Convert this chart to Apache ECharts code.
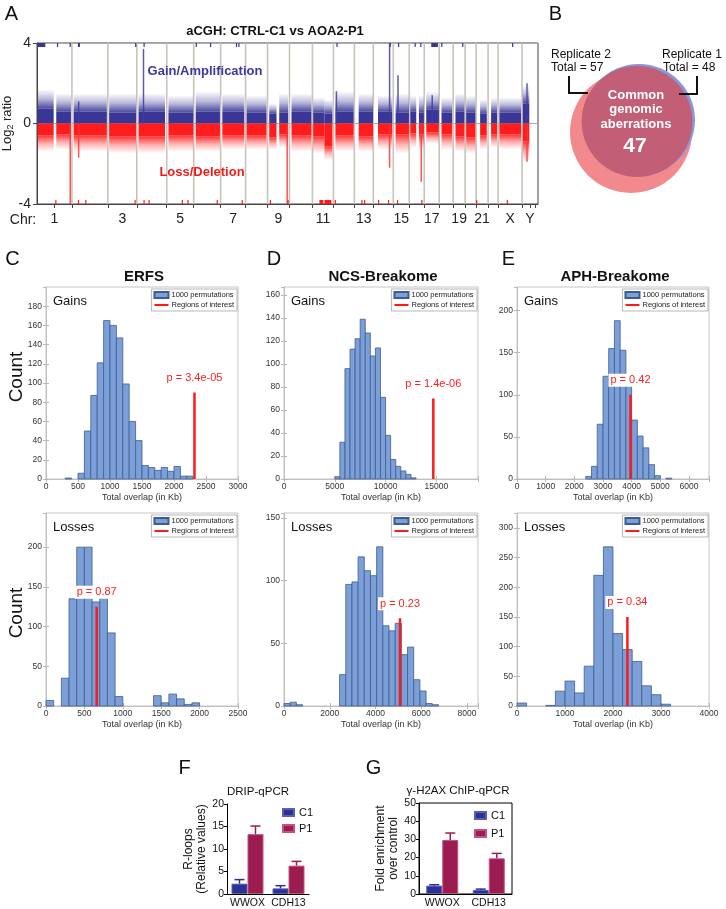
<!DOCTYPE html>
<html><head><meta charset="utf-8">
<script src="https://cdn.jsdelivr.net/npm/echarts@6/dist/echarts.min.js"></script>
<style>html,body{margin:0;padding:0;background:#fff}#c{width:726px;height:909px}</style>
</head><body><div id="c"></div>
<script>
// ================= DATA =================
// Panel A (aCGH) — x in genome-index units
const chrNames = ['1','2','3','4','5','6','7','8','9','10','11','12','13','14','15','16','17','18','19','20','21','22','X','Y'];
const chrBounds = [0,35,71,100,130,157,184,209,231,253,276,297,318,337,357,373,388,403,417,429,440,452,462,486,502];
const chrLabeled = ['1','3','5','7','9','11','13','15','17','19','21','X','Y'];
// [start, end, gainDense, gainSparse, lossDense, lossSparse]
const acghSegments = [
  [0.7,16.7,0.75,1.7,-0.6,-1.4],[19.3,34,0.6,1.5,-0.55,-1.3],[36.7,70,0.6,1.5,-0.6,-1.4],
  [72.3,99.3,0.55,1.5,-0.65,-1.5],[101.7,128.3,0.6,1.5,-0.65,-1.5],[131.7,156.7,0.55,1.4,-0.6,-1.4],
  [159,183.3,0.6,1.6,-0.65,-1.4],[185.7,207.7,0.6,1.5,-0.6,-1.3],[210,230,0.55,1.4,-0.6,-1.3],
  [232.7,240,0.5,1.0,-0.7,-1.3],[242.7,251.7,0.55,1.5,-0.55,-1.2],[255,275,0.6,1.5,-0.6,-1.4],
  [276.7,288,0.55,1.3,-0.65,-1.5],[288,296,0.5,1.2,-1.15,-1.8],[299,317.3,0.6,1.6,-0.6,-1.4],
  [322.3,336.7,0.6,1.5,-0.65,-1.4],[341.7,356,0.6,1.4,-0.55,-1.3],[359.3,372.7,0.55,1.5,-0.55,-1.5],
  [374,380,0.6,1.4,-0.5,-1.2],[382.7,387.7,0.55,1.4,-0.55,-1.3],[390,402.7,0.7,1.6,-0.45,-1.0],
  [405.3,416,0.55,1.3,-0.55,-1.3],[419.3,428.3,0.6,1.5,-0.65,-1.4],[430,439.3,0.55,1.4,-0.7,-1.5],
  [444,450.7,0.5,1.2,-0.6,-1.3],[455,461,0.55,1.3,-0.55,-1.2],[463.3,485,0.55,1.3,-0.55,-1.3],
  [486.7,493.3,1.0,1.9,-0.9,-1.9]
];
// single-probe spikes [x, log2 ratio]
const acghSpikes = [[33.3,-4],[41.7,-1.7],[41.7,1.1],[106.7,3.7],[250.7,-4],[300,1.6],[353.3,4],[353.3,-2.2],[361.7,2.4],[385,-2.9],[396,1.4],[491,2.0],[491,-1.9]];
// probes clipped at +4 / -4  [x0, x1]
const gainClipped = [[0.7,8.3],[20,20.6],[32.7,33.3],[41,43],[98.3,98.9],[106.7,107.3],[159,159.6],[173.3,173.9],[199.3,199.9],[201.7,202.3],[300,300.6],[353.3,353.9],[361.7,362.3],[378.3,378.9],[384,384.6],[395,401.7],[405,405.6],[426,426.6],[476,476.6]];
const lossClipped = [[18.3,18.9],[41,41.6],[48.3,48.9],[97.7,98.3],[106.7,107.3],[111.7,112.3],[145,145.6],[150.7,151.3],[180,180.6],[205,205.6],[233.3,233.9],[251,251.6],[283,287],[288,295],[298.3,298.9],[325,325.6],[327.7,328.3],[341.7,342.3],[351.7,352.3],[360.7,361.3],[385,385.6],[440,440.6],[470.7,471.3]];

// Panel B (Venn)
const vennNames = ['Replicate 2','Replicate 1','Common genomic aberrations'];
const vennTotals = [57,48,47];

// Panels C-E: histogram counts (bin start, bin width, counts)
const erfsGainsStart = 300, erfsGainsWidth = 100;
const erfsGainsCounts = [1,0,6,50,87,121,165,160,147,99,60,40,14,12,9,12,8,13,3,3];
const ncsGainsStart = 5000, ncsGainsWidth = 500;
const ncsGainsCounts = [2,32,96,113,122,139,127,107,114,71,38,17,11,7,4,1];
const aphGainsStart = 2400, aphGainsWidth = 200;
const aphGainsCounts = [3,15,65,122,155,188,153,118,70,51,37,17,4,0,1];
const erfsLossesStart = 0, erfsLossesWidth = 100;
const erfsLossesCounts = [7,0,35,135,200,200,131,140,92,12,0,0,0,0,13,4,15,9,2,4];
const ncsLossesStart = 0, ncsLossesWidth = 270;
const ncsLossesCounts = [2,3,1,0,0,0,0,0,0,25,97,99,119,108,104,127,64,60,66,41,47,21,12,2,1];
const aphLossesStart = 0, aphLossesWidth = 200;
const aphLossesCounts = [5,0,0,1,25,42,22,67,220,268,122,95,75,34,19,3];
// regions of interest: total overlap, line height, p-value
const roiOverlap = [2320,14700,3960,660,5070,2300];
const roiHeight = [90,70,100,125,70,150];
const roiP = ['3.4e-05','1.4e-06','0.42','0.87','0.23','0.34'];
const histTitles = ['ERFS','NCS-Breakome','APH-Breakome'];

// Panels F, G
const genes = ['WWOX','CDH13'];
const dripC1 = [2.3,1.25], dripC1Err = [0.9,0.6];
const dripP1 = [13.3,6.3], dripP1Err = [1.8,0.95];
const h2axC1 = [4.6,2.2], h2axC1Err = [0.5,0.5];
const h2axP1 = [29.7,19.6], h2axP1Err = [3.8,2.7];

// ================= BUILD =================
const FONT = '"Liberation Sans", Arial, Helvetica, sans-serif';
const chart = echarts.init(document.getElementById('c'));
const grids = [], xAxes = [], yAxes = [], series = [], legends = [], graphics = [];

function txt(x, y, text, size, opts) {
  opts = opts || {};
  graphics.push({type:'text', x:x, y:y, rotation: opts.rot || 0, z:100,
    style:{text:text, fill: opts.color || '#111', font: (opts.weight||'normal') + ' ' + size + 'px ' + FONT,
      align: opts.align || 'center', verticalAlign: opts.va || 'middle', lineHeight: opts.lh}});
}
function grid(o) { o.outerBoundsMode = 'none'; o.containLabel = false; grids.push(o); return grids.length - 1; }

// ---------- Panel A ----------
const chrCenters = chrLabeled.map(n => { const i = chrNames.indexOf(n); return (chrBounds[i] + chrBounds[i+1]) / 2; });
const chrTicks = chrBounds.slice(1, -1).concat([17.5, 494, 499]);
grid({left:37, top:43, width:501, height:161, show:true, borderColor:'#444', borderWidth:1, backgroundColor:'#fff'});
xAxes.push({gridIndex:0, type:'value', min:0, max:502,
  axisLine:{show:true, onZero:false, lineStyle:{color:'#444'}},
  axisTick:{show:true, customValues:chrTicks, length:4, lineStyle:{color:'#444'}},
  axisLabel:{customValues:chrCenters, fontSize:14, color:'#222', margin:8, fontFamily:FONT,
    formatter: v => { const k = chrCenters.findIndex(c => Math.abs(c - v) < 0.01); return k >= 0 ? chrLabeled[k] : ''; }},
  splitLine:{show:false}});
yAxes.push({gridIndex:0, type:'value', min:-4, max:4, interval:4,
  axisLine:{show:true, lineStyle:{color:'#444'}}, axisTick:{show:true, length:4, lineStyle:{color:'#444'}},
  axisLabel:{fontSize:14, color:'#222', margin:6, fontFamily:FONT},
  splitLine:{show:true, lineStyle:{color:'#aaa', width:1}},
  name:'{a|Log}{s|2}{a| ratio}', nameLocation:'middle', nameGap:22, nameRotate:90, nameMoveOverlap:false,
  nameTextStyle:{color:'#222', fontFamily:FONT, rich:{a:{fontSize:13, fontFamily:FONT, color:'#222', lineHeight:16}, s:{fontSize:9, fontFamily:FONT, color:'#222', verticalAlign:'bottom', lineHeight:12}}}});

series.push({type:'custom', xAxisIndex:0, yAxisIndex:0, silent:true, z:1,
  data: chrBounds.slice(1, -1).map(b => [b, 0]),
  encode:{x:0, y:1},
  renderItem:(p, api) => { const a = api.coord([api.value(0), 4]), b = api.coord([api.value(0), -4]);
    return {type:'line', shape:{x1:a[0], y1:a[1], x2:b[0], y2:b[1]}, style:{stroke:'#c8c4ba', lineWidth:1.6}}; }});
const gradUp = new echarts.graphic.LinearGradient(0,0,0,1,[{offset:0,color:'rgba(58,54,150,0)'},{offset:0.5,color:'rgba(58,54,150,0.35)'},{offset:1,color:'rgba(58,54,150,0.9)'}]);
const gradDn = new echarts.graphic.LinearGradient(0,0,0,1,[{offset:0,color:'rgba(255,30,30,0.9)'},{offset:0.5,color:'rgba(255,30,30,0.35)'},{offset:1,color:'rgba(255,30,30,0)'}]);
series.push({type:'custom', xAxisIndex:0, yAxisIndex:0, silent:true, z:2,
  data: acghSegments, encode:{x:[0,1], y:[2,3,4,5]},
  renderItem:(p, api) => {
    const x0 = api.value(0), x1 = api.value(1);
    const o = api.coord([x0, 0]), e = api.coord([x1, 0]);
    const yg = api.coord([x0, api.value(2)])[1], ygs = api.coord([x0, api.value(3)])[1];
    const yl = api.coord([x0, api.value(4)])[1], yls = api.coord([x0, api.value(5)])[1];
    const X = o[0], W = e[0] - o[0], Y0 = o[1];
    return {type:'group', children:[
      {type:'rect', shape:{x:X, y:ygs, width:W, height:yg - ygs}, style:{fill:gradUp}},
      {type:'rect', shape:{x:X, y:yg, width:W, height:Y0 - yg}, style:{fill:'#3a3696'}},
      {type:'rect', shape:{x:X, y:Y0, width:W, height:yl - Y0}, style:{fill:'#ff1c1c'}},
      {type:'rect', shape:{x:X, y:yl, width:W, height:yls - yl}, style:{fill:gradDn}}
    ]};
  }});
series.push({type:'custom', xAxisIndex:0, yAxisIndex:0, silent:true, z:3,
  data: acghSpikes, encode:{x:0, y:1},
  renderItem:(p, api) => { const v = api.value(1); const a = api.coord([api.value(0), 0]), b = api.coord([api.value(0), v]);
    return {type:'line', shape:{x1:a[0], y1:a[1], x2:b[0], y2:b[1]}, style:{stroke: v > 0 ? 'rgba(64,60,165,0.85)' : 'rgba(255,50,50,0.85)', lineWidth:1.5}}; }});
function clipRender(yv, color, down) {
  return (p, api) => { const a = api.coord([api.value(0), yv]), b = api.coord([api.value(1), yv]);
    return {type:'rect', shape:{x:a[0], y: down ? a[1] : a[1] - 4, width:Math.max(1.2, b[0] - a[0]), height:4}, style:{fill:color}}; };
}
series.push({type:'custom', xAxisIndex:0, yAxisIndex:0, silent:true, z:4, data: gainClipped.map(d => [d[0], d[1], 4]), encode:{x:[0,1], y:2}, renderItem: clipRender(4, '#3a3696', true)});
series.push({type:'custom', xAxisIndex:0, yAxisIndex:0, silent:true, z:4, data: lossClipped.map(d => [d[0], d[1], -4]), encode:{x:[0,1], y:2}, renderItem: clipRender(-4, '#ff1c1c', false)});

txt(275, 31, 'aCGH: CTRL-C1 vs AOA2-P1', 13, {weight:'bold'});
txt(205, 71, 'Gain/Amplification', 13, {weight:'bold', color:'#3b3a9c'});
txt(202, 172, 'Loss/Deletion', 13, {weight:'bold', color:'#f01c1c'});
txt(23, 220, 'Chr:', 14, {color:'#222'});

// ---------- Panel B (Venn) ----------
grid({left:540, top:40, width:180, height:180, show:false});
xAxes.push({gridIndex:1, type:'value', min:0, max:180, show:false});
yAxes.push({gridIndex:1, type:'value', min:0, max:180, inverse:true, show:false});
const vennCenters = [[91,92],[99,80],[97,81.5]];
const vennColors = ['#f28a8d','#8797d8','#c25e75'];
const vennK = 61 / Math.sqrt(vennTotals[0]);
series.push({type:'custom', xAxisIndex:1, yAxisIndex:1, silent:true, z:2,
  data: vennTotals.map((t, i) => [vennCenters[i][0], vennCenters[i][1], t]), encode:{x:0, y:1},
  renderItem:(p, api) => { const c = api.coord([api.value(0), api.value(1)]); const r = api.size([vennK * Math.sqrt(api.value(2)), 0])[0];
    return {type:'circle', shape:{cx:c[0], cy:c[1], r:r}, style:{fill:vennColors[p.dataIndex]}}; }});
txt(551, 55, vennNames[0], 12, {align:'left'});
txt(551, 68, 'Total = ' + vennTotals[0], 12, {align:'left'});
txt(662, 55, vennNames[1], 12, {align:'left'});
txt(663, 68, 'Total = ' + vennTotals[1], 12, {align:'left'});
graphics.push({type:'polyline', z:100, shape:{points:[[569,76],[569,93],[588,93]]}, style:{stroke:'#111', lineWidth:2, fill:null}});
graphics.push({type:'polyline', z:100, shape:{points:[[697,76],[697,94],[679,94]]}, style:{stroke:'#111', lineWidth:2, fill:null}});
txt(636, 109.5, 'Common\ngenomic\naberrations', 13, {weight:'bold', color:'#fff', lh:14.5});
txt(635, 146, String(vennTotals[2]), 21, {weight:'bold', color:'#fff'});

// ---------- Panels C-E ----------
const histSets = [
  [erfsGainsStart, erfsGainsWidth, erfsGainsCounts], [ncsGainsStart, ncsGainsWidth, ncsGainsCounts], [aphGainsStart, aphGainsWidth, aphGainsCounts],
  [erfsLossesStart, erfsLossesWidth, erfsLossesCounts], [ncsLossesStart, ncsLossesWidth, ncsLossesCounts], [aphLossesStart, aphLossesWidth, aphLossesCounts]
];
const colLeft = [46, 284, 517], colW = [192, 194, 192];
const rowTop = [287, 513], rowH = [192, 193];
const xMaxes = [3000, 19100, 6700, 2500, 8480, 4000], xInts = [500, 5000, 1000, 500, 2000, 1000];
const yMaxes = [200, 167, 228, 243, 154, 325], yInts = [20, 20, 50, 50, 50, 50];
const isMult = (v, s) => Math.abs(v / s - Math.round(v / s)) < 1e-6;
const AX = '#b8b8b8', LB = '#333';
histSets.forEach((hs, k) => {
  const col = k % 3, row = Math.floor(k / 3);
  const xi = xAxes.length, yi = yAxes.length;
  const L = colLeft[col], T = rowTop[row], W = colW[col], H = rowH[row];
  const gi = grid({left:L, top:T, width:W, height:H, show:true, borderColor:AX, borderWidth:0.8});
  const xm = xMaxes[k], xs = xInts[k], ym = yMaxes[k], ys = yInts[k];
  xAxes.push({gridIndex:gi, type:'value', position:'bottom', min:0, max:xm, interval:xs,
    axisLine:{show:true, onZero:false, lineStyle:{color:AX, width:0.8}}, axisTick:{show:true, inside:true, length:3, lineStyle:{color:AX}},
    axisLabel:{fontSize:8.5, color:LB, margin:3, fontFamily:FONT, formatter: v => isMult(v, xs) ? String(v) : ''},
    splitLine:{show:false}, name:'Total overlap (in Kb)', nameLocation:'middle', nameGap:14,
    nameTextStyle:{fontSize:9, color:LB, fontFamily:FONT}});
  xAxes.push({gridIndex:gi, type:'value', position:'top', min:0, max:xm, interval:xs,
    axisLine:{show:false}, axisTick:{show:true, inside:true, length:3, lineStyle:{color:AX}}, axisLabel:{show:false}, splitLine:{show:false}});
  yAxes.push({gridIndex:gi, type:'value', position:'left', min:0, max:ym, interval:ys,
    axisLine:{show:true, lineStyle:{color:AX, width:0.8}}, axisTick:{show:true, inside:true, length:3, lineStyle:{color:AX}},
    axisLabel:{fontSize:8.5, color:LB, margin:4, fontFamily:FONT, showMaxLabel:false, formatter: v => isMult(v, ys) ? String(v) : ''},
    splitLine:{show:false}});
  yAxes.push({gridIndex:gi, type:'value', position:'right', min:0, max:ym, interval:ys,
    axisLine:{show:false}, axisTick:{show:true, inside:true, length:3, lineStyle:{color:AX}}, axisLabel:{show:false}, splitLine:{show:false}});
  const [st, bw, counts] = hs;
  series.push({type:'custom', name:'1000 permutations', xAxisIndex:xi, yAxisIndex:yi, silent:true, z:2,
    itemStyle:{color:'#7c9fd8', borderColor:'#3d5d92', borderWidth:0.8},
    data: counts.map((c, i) => [st + i * bw, st + (i + 1) * bw, c]), encode:{x:[0,1], y:2},
    renderItem:(p, api) => { if (!api.value(2)) return null;
      const a = api.coord([api.value(0), api.value(2)]), b = api.coord([api.value(1), 0]);
      return {type:'rect', shape:{x:a[0], y:a[1], width:b[0] - a[0], height:b[1] - a[1]}, style:{fill:'#7c9fd8', stroke:'#3d5d92', lineWidth:0.8}}; }});
  series.push({type:'line', name:'Regions of interest', xAxisIndex:xi, yAxisIndex:yi, silent:true, z:5, symbol:'none',
    data:[[roiOverlap[k], 0], [roiOverlap[k], roiHeight[k]]], lineStyle:{color:'#ff1a1a', width:2.5}, itemStyle:{color:'#ff1a1a'}});
  series.push({type:'custom', xAxisIndex:xi, yAxisIndex:yi, silent:true, z:4,
    data:[[roiOverlap[k], roiHeight[k]]], encode:{x:0, y:1},
    renderItem:(p, api) => { const c = api.coord([api.value(0), api.value(1)]);
      return {type:'text', x:c[0], y:c[1] - 8, style:{text:'p = ' + roiP[k], fill:'#ff2020', font:'11px ' + FONT,
        align:'center', verticalAlign:'bottom', backgroundColor:'#fff', padding:[1,2,1,2]}}; }});
  legends.push({orient:'vertical', top:T + 2, right:726 - (L + W) + 1, itemWidth:14, itemHeight:6, itemGap:2,
    padding:[2,3,2,2], backgroundColor:'#fff', borderColor:'#8a8a8a', borderWidth:0.6, selectedMode:false,
    textStyle:{fontSize:7.5, color:'#222', fontFamily:FONT, padding:[0,0,0,-2]},
    data:[{name:'1000 permutations', icon:'rect'},
          {name:'Regions of interest', itemStyle:{opacity:0, color:'rgba(0,0,0,0)', borderWidth:0}, lineStyle:{color:'#ff1a1a', width:2}}]});
  txt(L + 7, T + 14, row === 0 ? 'Gains' : 'Losses', 13, {align:'left', color:'#111'});
  if (row === 0) txt(L + W / 2 + 2, 277, histTitles[col], 15, {weight:'bold'});
});
txt(17, 377, 'Count', 19, {rot:Math.PI / 2});
txt(17, 613, 'Count', 19, {rot:Math.PI / 2});

// ---------- Panels F, G ----------
const C1C = '#2c3192', P1C = '#9b1c50';
function addBarPanel(L, T, W, H, yMax, yInt, yName, nameGap, c1, c1e, p1, p1e, title, titleX, boxed) {
  const xi = xAxes.length, yi = yAxes.length;
  const gi = grid({left:L, top:T, width:W, height:H, show:boxed, borderColor:'#000', borderWidth:1});
  xAxes.push({gridIndex:gi, type:'category', data:genes, axisLine:{lineStyle:{color:'#000', width:1}}, axisTick:{show:false},
    axisLabel:{fontSize:10.5, color:'#111', margin:4, fontFamily:FONT, interval:0}});
  yAxes.push({gridIndex:gi, type:'value', min:0, max:yMax, interval:yInt,
    axisLine:{show:true, lineStyle:{color:'#000', width:1}}, axisTick:{show:true, length:3, lineStyle:{color:'#000'}},
    axisLabel:{fontSize:10.5, color:'#111', margin:3, fontFamily:FONT}, splitLine:{show:false},
    name:yName, nameLocation:'middle', nameGap:nameGap, nameTextStyle:{fontSize:12, lineHeight:13, color:'#111', fontFamily:FONT}});
  const bw = 16;
  [['C1', c1, c1e, C1C, '#5a5fb4', -1], ['P1', p1, p1e, P1C, '#c4527f', 1]].forEach(([nm, vals, errs, col, bcol, side]) => {
    series.push({type:'bar', name:nm, xAxisIndex:xi, yAxisIndex:yi, data:vals, barWidth:bw, barGap:'0%', silent:true, z:2,
      itemStyle:{color:col, borderColor:bcol, borderWidth:1}});
    series.push({type:'custom', xAxisIndex:xi, yAxisIndex:yi, silent:true, z:3,
      data: vals.map((v, i) => [i, v, v + errs[i]]), encode:{x:0, y:[1,2]},
      renderItem:(p, api) => { const a = api.coord([api.value(0), api.value(1)]), b = api.coord([api.value(0), api.value(2)]);
        const x = a[0] + side * bw / 2;
        return {type:'group', children:[
          {type:'line', shape:{x1:x, y1:a[1], x2:x, y2:b[1]}, style:{stroke:col, lineWidth:1.5}},
          {type:'line', shape:{x1:x - 5, y1:b[1], x2:x + 5, y2:b[1]}, style:{stroke:col, lineWidth:1.5}}]}; }});
  });
  txt(titleX, T - 12, title, 11.5, {color:'#111'});
}
addBarPanel(227, 804, 82, 90, 20, 5, 'R-loops\n(Relative values)', 15, dripC1, dripC1Err, dripP1, dripP1Err, 'DRIP-qPCR', 258, false);
addBarPanel(419, 803, 93, 91, 50, 10, 'Fold enrichment\nover control', 15, h2axC1, h2axC1Err, h2axP1, h2axP1Err, 'γ-H2AX ChIP-qPCR', 458, true);
legends.push({orient:'vertical', left:282, top:807, itemWidth:11, itemHeight:7, itemGap:5, selectedMode:false, padding:0,
  textStyle:{fontSize:11, color:'#111', fontFamily:FONT}, data:[{name:'C1', icon:'rect'}, {name:'P1', icon:'rect'}]});
legends.push({orient:'vertical', left:474, top:810, itemWidth:11, itemHeight:7, itemGap:7, selectedMode:false, padding:0,
  textStyle:{fontSize:11, color:'#111', fontFamily:FONT}, data:[{name:'C1', icon:'rect'}, {name:'P1', icon:'rect'}]});

// Panel letters
[['A',11.5,14],['B',555.5,14],['C',12.5,259],['D',274,259],['E',508.5,259],['F',184.5,768],['G',373.5,768]]
  .forEach(([t, x, y]) => txt(x, y, t, 20, {color:'#111'}));

chart.setOption({
  animation:false, backgroundColor:'#fff',
  textStyle:{fontFamily:FONT},
  grid:grids, xAxis:xAxes, yAxis:yAxes, series:series, legend:legends, graphic:graphics
});
</script></body></html>
